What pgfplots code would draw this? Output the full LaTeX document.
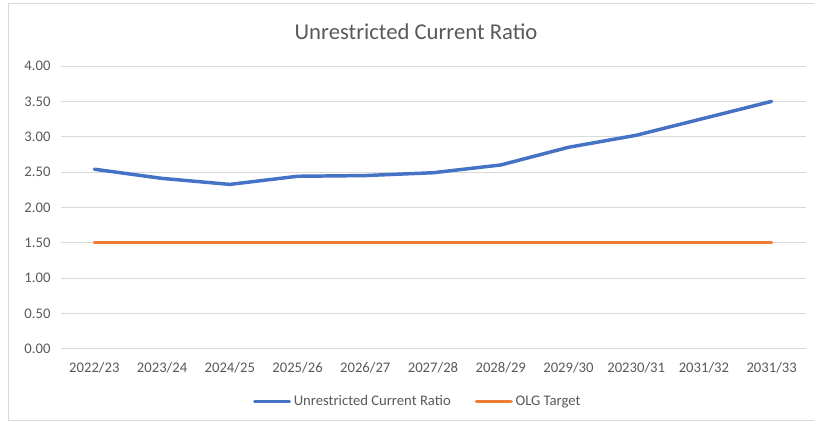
\documentclass[border=0pt]{standalone}
\usepackage{pgfplots}
\pgfplotsset{compat=1.18}
\usepackage{fontspec}
\setmainfont{Carlito}
\definecolor{txtgray}{HTML}{595959}
\definecolor{gridgray}{HTML}{D9D9D9}
\definecolor{bordergray}{HTML}{D9D9D9}
\definecolor{xlblue}{HTML}{4472C4}
\definecolor{xlorange}{HTML}{ED7D31}
\begin{document}
\begin{tikzpicture}[x=0.75pt,y=0.75pt]
\useasboundingbox (0,0) rectangle (814,425);
\draw[bordergray,line width=0.75pt] (8,5) rectangle (830,421);
\node[txtgray,font=\fontsize{17}{20}\selectfont] at (416,393) {Unrestricted Current Ratio};
\begin{axis}[
  at={(45.375pt,57.225pt)}, anchor=south west,
  scale only axis, width=558.75pt, height=212pt,
  xmin=-0.5, xmax=10.5, ymin=0, ymax=4,
  xtick={0,...,10},
  xticklabels={2022/23,2023/24,2024/25,2025/26,2026/27,2027/28,2028/29,2029/30,20230/31,2031/32,2031/33},
  ytick={0,0.5,...,4},
  /pgf/number format/fixed,
  /pgf/number format/fixed zerofill,
  /pgf/number format/precision=2,
  /pgf/number format/assume math mode=true,
  ticklabel style={font=\fontsize{11}{13}\selectfont, text=txtgray},
  axis line style={draw=none},
  axis x line*=bottom,
  x axis line style={draw=gridgray, line width=0.75pt},
  tick style={draw=none},
  ymajorgrids, grid style={gridgray, line width=0.75pt},
  xticklabel style={yshift=-7pt},
  yticklabel style={xshift=-4pt},
  legend style={at={(0.48,-0.145)}, anchor=north, draw=none, fill=none,
     legend columns=2, font=\fontsize{11}{13}\selectfont, text=txtgray,
     /tikz/every even column/.append style={column sep=16pt}},
  legend image code/.code={\draw[#1] (0pt,0pt) -- (26pt,0pt);},
]
\addplot[xlblue, line width=2.6pt, line join=round, line cap=round] coordinates {
 (0,2.54) (1,2.41) (2,2.325) (3,2.44) (4,2.45) (5,2.49) (6,2.60) (7,2.85) (8,3.02) (9,3.26) (10,3.50)};
\addlegendentry{Unrestricted Current Ratio}
\addplot[xlorange, line width=2.6pt, line cap=round] coordinates {
 (0,1.5) (1,1.5) (2,1.5) (3,1.5) (4,1.5) (5,1.5) (6,1.5) (7,1.5) (8,1.5) (9,1.5) (10,1.5)};
\addlegendentry{OLG Target}
\end{axis}
\end{tikzpicture}
\end{document}
